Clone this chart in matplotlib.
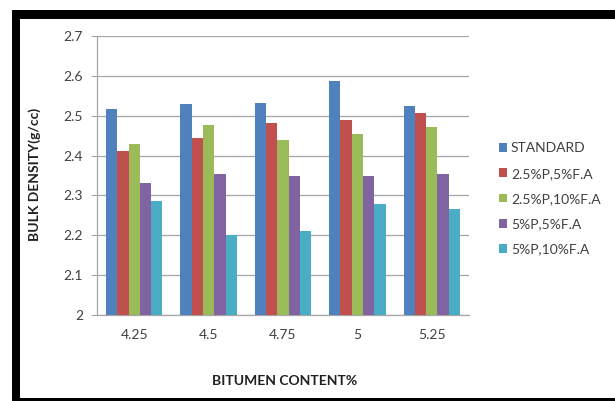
import matplotlib
matplotlib.use("Agg")
import matplotlib.pyplot as plt
from matplotlib.patches import Rectangle
import numpy as np

categories = ["4.25", "4.5", "4.75", "5", "5.25"]
series_names = ["STANDARD", "2.5%P,5%F.A", "2.5%P,10%F.A", "5%P,5%F.A", "5%P,10%F.A"]
standard = [2.517, 2.529, 2.531, 2.586, 2.525]
p25_fa5 = [2.411, 2.444, 2.481, 2.490, 2.507]
p25_fa10 = [2.429, 2.477, 2.440, 2.454, 2.472]
p5_fa5 = [2.332, 2.354, 2.348, 2.348, 2.354]
p5_fa10 = [2.285, 2.200, 2.212, 2.278, 2.265]
y_ticks = [2.0, 2.1, 2.2, 2.3, 2.4, 2.5, 2.6, 2.7]
y_tick_labels = ["2", "2.1", "2.2", "2.3", "2.4", "2.5", "2.6", "2.7"]

colors = ["#4F81BD", "#C0504D", "#9BBB59", "#8064A2", "#4BACC6"]
series = [standard, p25_fa5, p25_fa10, p5_fa5, p5_fa10]

W, H = 615, 401
fig = plt.figure(figsize=(W / 100, H / 100), dpi=100)
fig.patch.set_facecolor("white")

ax = fig.add_axes([97 / W, 86 / H, 372 / W, 279 / H])
x = np.arange(len(categories))
bw = 0.152
for i, (vals, c, name) in enumerate(zip(series, colors, series_names)):
    ax.bar(x + (i - 2) * bw, vals, width=bw, color=c, label=name, zorder=3)

ax.set_xlim(-0.5, len(categories) - 0.5)
ax.set_ylim(2.0, 2.7)
ax.set_yticks(y_ticks)
ax.set_yticklabels(y_tick_labels)
ax.set_xticks(x)
ax.set_xticklabels(categories)
ax.yaxis.grid(True, color="#A6A6A6", linewidth=0.9, zorder=0)
ax.set_axisbelow(True)
for s in ["top", "right"]:
    ax.spines[s].set_visible(False)
for s in ["left", "bottom"]:
    ax.spines[s].set_color("#A6A6A6")
    ax.spines[s].set_linewidth(0.9)
ax.tick_params(axis="y", length=4, color="#A6A6A6", labelsize=10, labelcolor="#404040", pad=6)
ax.tick_params(axis="x", length=0, labelsize=10, labelcolor="#404040", pad=10)
for lab in ax.get_xticklabels() + ax.get_yticklabels():
    lab.set_family("Lato")

fig.text(285 / W, 1 - 381 / H, "BITUMEN CONTENT%", ha="center", va="center",
         fontsize=10, fontweight="bold", family="Lato", color="#202020")
fig.text(35 / W, 1 - 174 / H, "BULK DENSITY(g/cc)", ha="center", va="center",
         rotation=90, fontsize=10, fontweight="bold", family="Lato", color="#202020")

leg = ax.legend(loc="upper left", bbox_to_anchor=(486 / W, 1 - 130 / H),
                bbox_transform=fig.transFigure, frameon=False,
                handlelength=0.6, handleheight=0.6, handletextpad=0.3,
                labelspacing=0.95, prop={"family": "Lato", "size": 10})
for t in leg.get_texts():
    t.set_color("#404040")

# black frame (left, top, bottom)
def frect(x0, y0, x1, y1):
    fig.patches.append(Rectangle((x0 / W, 1 - y1 / H), (x1 - x0) / W, (y1 - y0) / H,
                                 transform=fig.transFigure, facecolor="black",
                                 edgecolor="none", zorder=10))
frect(12, 10, 20, 401)
frect(12, 10, 615, 19)
frect(12, 398, 615, 401)

fig.savefig("out.png", dpi=100)
